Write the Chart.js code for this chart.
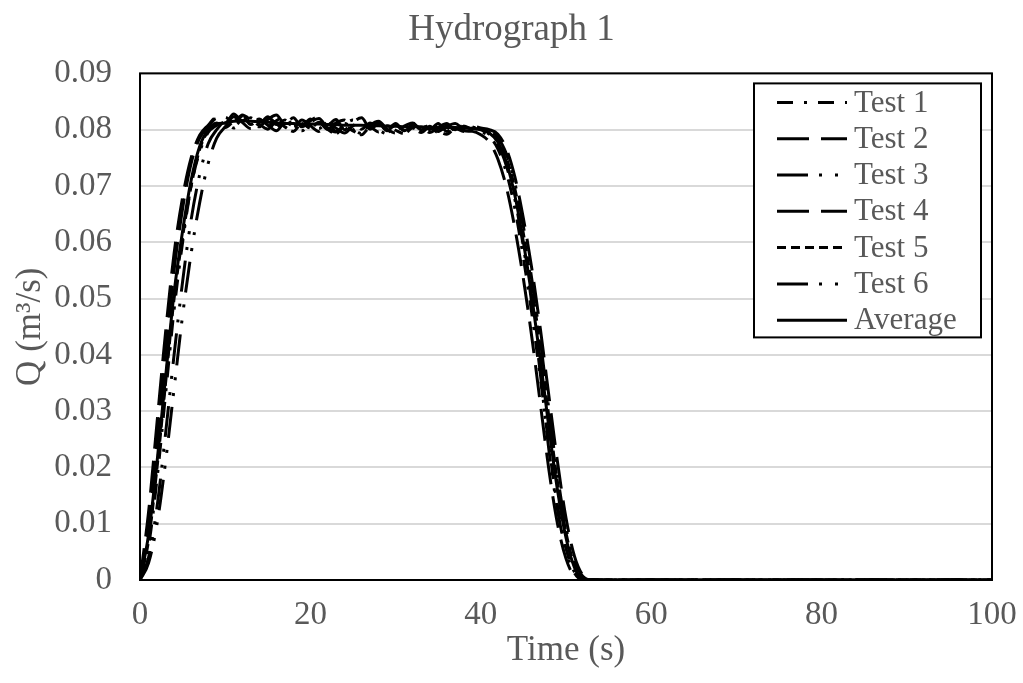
<!DOCTYPE html>
<html><head><meta charset="utf-8">
<script src="https://cdn.jsdelivr.net/npm/chart.js@4.4.1/dist/chart.umd.min.js"></script>
<style>html,body{margin:0;padding:0;background:#fff;}canvas{display:block;}</style>
</head><body>
<canvas id="c" width="1023" height="683"></canvas>
<script>
const times = [0,1,2,3,4,5,6,7,8,9,10,11,12,13,14,15,16,17,18,19,20,21,22,23,24,25,26,27,28,29,30,31,32,33,34,35,36,37,38,39,40,41,42,43,44,45,46,47,48,49,50,51,52,53,100];
const test1 = [0,0.006,0.018,0.033,0.048,0.060,0.070,0.076,0.0795,0.0808,
0.0822,0.0812,0.0826,0.0817,0.0805,0.0821,0.0811,0.0800,0.0816,0.0807,
0.0819,0.0802,0.0813,0.0797,0.0809,0.0817,0.0801,0.0812,0.0800,0.0793,
0.0809,0.0799,0.0811,0.0797,0.0806,0.0795,0.0808,0.0800,0.0806,
0.0801,0.0797,0.0788,0.0766,0.0724,0.0660,0.0572,0.0472,0.0358,0.0238,0.0132,0.0056,0.0014,0,0,
0];
const test2 = [0,0.012,0.028,0.044,0.058,0.068,0.075,0.079,0.0808,
0.0822,0.0812,0.0828,0.0816,0.0824,0.0807,0.0818,0.0826,0.0810,0.0821,0.0805,
0.0816,0.0823,0.0808,0.0818,0.0800,0.0813,0.0821,0.0803,0.0812,0.0800,
0.0811,0.0798,0.0809,0.0815,0.0800,0.0811,0.0797,0.0808,0.0798,
0.0797,0.0791,0.0778,0.0748,0.0698,0.0625,0.0535,0.0430,0.0312,0.0195,0.0100,0.0038,0.0006,0,0,
0];
const test3 = [0,0.004,0.013,0.026,0.040,0.053,0.064,0.072,0.0775,0.0800,
0.0814,0.0803,0.0818,0.0825,0.0810,0.0801,0.0816,0.0822,0.0806,0.0798,
0.0813,0.0820,0.0803,0.0796,0.0811,0.0802,0.0793,0.0808,0.0815,0.0801,
0.0794,0.0806,0.0797,0.0808,0.0795,0.0804,0.0811,0.0798,0.0806,
0.0804,0.0801,0.0797,0.0786,0.0757,0.0705,0.0628,0.0533,0.0424,0.0302,0.0186,0.0094,0.0033,0.0006,0,
0];
const test4 = [0,0.009,0.024,0.040,0.055,0.066,0.074,0.0785,0.0805,
0.0820,0.0810,0.0823,0.0813,0.0802,0.0818,0.0808,0.0798,0.0812,0.0804,0.0817,
0.0807,0.0797,0.0811,0.0803,0.0794,0.0807,0.0815,0.0801,0.0810,0.0800,
0.0793,0.0806,0.0812,0.0800,0.0808,0.0797,0.0806,0.0811,0.0802,
0.0806,0.0803,0.0800,0.0792,0.0766,0.0716,0.0642,0.0552,0.0445,0.0326,0.0210,0.0110,0.0042,0.0008,0,
0];
const test5 = [0,0.007,0.020,0.035,0.050,0.061,0.070,0.0765,0.0798,0.0812,
0.0804,0.0815,0.0824,0.0809,0.0819,0.0806,0.0815,0.0805,0.0797,0.0811,
0.0803,0.0813,0.0801,0.0793,0.0806,0.0798,0.0791,0.0804,0.0796,0.0807,
0.0799,0.0793,0.0803,0.0795,0.0805,0.0798,0.0792,0.0802,0.0797,
0.0803,0.0799,0.0795,0.0782,0.0750,0.0695,0.0615,0.0520,0.0410,0.0288,0.0174,0.0084,0.0026,0.0003,0,
0];
const test6 = [0,0.003,0.010,0.021,0.034,0.047,0.058,0.067,0.074,0.0785,
0.0805,0.0818,0.0808,0.0821,0.0811,0.0823,0.0809,0.0817,0.0805,0.0815,
0.0803,0.0813,0.0801,0.0812,0.0817,0.0800,0.0810,0.0801,0.0812,0.0798,
0.0809,0.0797,0.0809,0.0801,0.0810,0.0798,0.0807,0.0800,0.0808,
0.0805,0.0800,0.0792,0.0774,0.0736,0.0676,0.0592,0.0490,0.0365,0.0230,0.0125,0.0052,0.0012,0,0,
0];
const average = [0,0.008,0.021,0.036,0.051,0.062,0.071,0.077,0.080,0.0810,
0.0812,0.0815,0.0816,0.0815,0.0814,0.0813,0.0812,0.0811,0.0811,0.0810,
0.0810,0.0810,0.0809,0.0809,0.0808,0.0808,0.0808,0.0807,0.0807,0.0806,
0.0806,0.0805,0.0805,0.0805,0.0804,0.0804,0.0804,0.0804,0.0803,
0.0802,0.0800,0.0794,0.0778,0.0742,0.0683,0.0600,0.0502,0.0390,0.0270,0.0160,0.0075,0.0022,0.0002,0,
0];
const seriesNames = ['Test 1','Test 2','Test 3','Test 4','Test 5','Test 6','Average'];
const seriesValues = [test1,test2,test3,test4,test5,test6,average];
const xTicks = [0,20,40,60,80,100];
const yTicks = [0,0.01,0.02,0.03,0.04,0.05,0.06,0.07,0.08,0.09];

const dashes = [[16,11,3,11],[32,12],[31,11,3,13,3,12],[32,12],[9,5],[31,11,3,13,3,12],[]];
const TXT = '#595959';
const FONT = '"Liberation Serif", "Times New Roman", serif';

const datasets = seriesNames.map((name,i)=>({
  label: name,
  data: times.map((t,k)=>({x:t, y:seriesValues[i][k]})),
  borderColor:'#000',
  borderWidth:3,
  borderDash:dashes[i],
  borderCapStyle:'butt',
  pointRadius:0,
  fill:false,
  cubicInterpolationMode:'monotone',
  yAxisID:'y'
}));

const frame = {
  id:'frame',
  beforeDraw(chart){
    const c=chart.ctx; c.save(); c.fillStyle='#fff'; c.fillRect(0,0,chart.width,chart.height); c.restore();
  },
  afterDatasetsDraw(chart){
    const c=chart.ctx, a=chart.chartArea;
    c.save(); c.strokeStyle='#000'; c.lineWidth=2; c.setLineDash([]);
    c.strokeRect(a.left, a.top, a.right-a.left, a.bottom-a.top);
    c.restore();
  }
};

const boxLegend = {
  id:'boxLegend',
  afterDraw(chart){
    const c=chart.ctx, a=chart.chartArea;
    const w=227, h=254, x0=a.right-238, y0=a.top+10;
    c.save();
    c.fillStyle='#fff'; c.fillRect(x0,y0,w,h);
    c.lineWidth=2; c.strokeStyle='#000'; c.setLineDash([]); c.strokeRect(x0,y0,w,h);
    chart.data.datasets.forEach((ds,i)=>{
      const cy=y0+19+i*36.3;
      c.setLineDash(ds.borderDash||[]);
      c.lineWidth=ds.borderWidth; c.strokeStyle=ds.borderColor; c.lineCap='butt';
      c.beginPath(); c.moveTo(x0+23,cy); c.lineTo(x0+93,cy); c.stroke();
      c.setLineDash([]);
      c.fillStyle=TXT; c.font='31px '+FONT; c.textBaseline='middle'; c.textAlign='left';
      c.fillText(ds.label, x0+100, cy+1);
    });
    c.restore();
  }
};

new Chart(document.getElementById('c'), {
  type:'line',
  data:{datasets},
  options:{
    responsive:false,
    animation:false,
    layout:{padding:{left:0,right:0,top:0,bottom:0}},
    plugins:{
      legend:{display:false},
      tooltip:{enabled:false},
      title:{display:true,text:'Hydrograph 1',color:TXT,font:{family:FONT,size:37,weight:'normal'},padding:{top:8,bottom:21}}
    },
    scales:{
      x:{
        type:'linear', min:0, max:100,
        afterBuildTicks(s){ s.ticks = xTicks.map(v=>({value:v})); },
        afterFit(s){ s.height=103; },
        grid:{display:true, drawOnChartArea:false, drawTicks:true, tickLength:16, color:'rgba(0,0,0,0)'},
        border:{display:false},
        ticks:{color:TXT, font:{family:FONT,size:33}, padding:0, maxRotation:0, callback:v=>String(v)},
        title:{display:true,text:'Time (s)',color:TXT,font:{family:FONT,size:35},padding:{top:0,bottom:11}}
      },
      y:{
        type:'linear', position:'left', min:0, max:0.09,
        afterBuildTicks(s){ s.ticks = yTicks.map(v=>({value:v})); },
        afterFit(s){ s.width=140; },
        grid:{color:'#d9d9d9', lineWidth:2, drawTicks:false},
        border:{display:false},
        ticks:{color:TXT, font:{family:FONT,size:33}, padding:28, callback:v=> v===0?'0':v.toFixed(2)},
        title:{display:true,text:'Q (m³/s)',color:TXT,font:{family:FONT,size:35},padding:{top:10,bottom:0}}
      },
      yRight:{
        type:'linear', position:'right', min:0, max:1,
        afterFit(s){ s.width=31; },
        grid:{display:false, drawTicks:false},
        border:{display:false},
        ticks:{display:false}
      }
    }
  },
  plugins:[frame, boxLegend]
});
</script>
</body></html>
